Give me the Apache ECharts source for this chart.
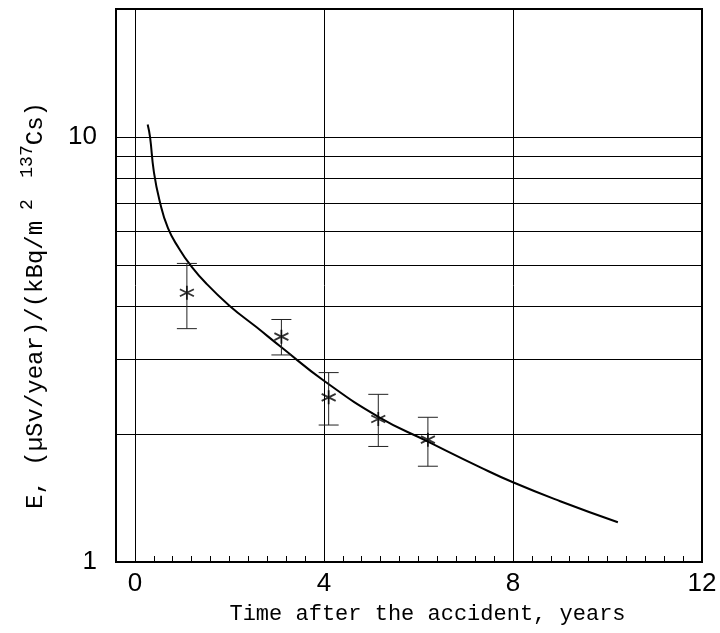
<!DOCTYPE html>
<html>
<head>
<meta charset="utf-8">
<script src="https://cdn.jsdelivr.net/npm/echarts@6/dist/echarts.min.js"></script>
<style>
  html, body { margin: 0; padding: 0; background: #fff; }
  #chart { width: 720px; height: 633px; }
</style>
</head>
<body>
<div id="chart"></div>
<script>
// Measured annual dose per unit 137Cs deposition, with error bars
const measYears = [1.1, 3.1, 4.1, 5.15, 6.2];
const measDose  = [4.3, 3.39, 2.44, 2.17, 1.94];
const measLow   = [3.54, 3.07, 2.10, 1.87, 1.68];
const measHigh  = [5.04, 3.72, 2.79, 2.48, 2.19];

// Model curve
const fitYears = [0.27, 0.32, 0.40, 0.52, 0.70, 0.94, 1.16, 1.51, 2.00, 2.57, 3.10, 4.00, 5.17, 6.18, 7.31, 8.00, 9.00, 10.22];
const fitDose  = [10.7, 10.0, 8.3, 7.1, 6.1, 5.45, 5.02, 4.52, 4.01, 3.57, 3.20, 2.67, 2.19, 1.925, 1.67, 1.54, 1.39, 1.24];

// Axis labels and grid lines
const xLabelValues = [0, 4, 8, 12];
const xGridValues = [0, 4, 8];
const yLabelValues = [1, 10];
const yGridValues = [2, 3, 4, 5, 6, 7, 8, 9, 10];

const monoFont = '"Liberation Mono", "Courier New", monospace';
const sansFont = '"Liberation Sans", Arial, sans-serif';

const chart = echarts.init(document.getElementById('chart'), null, { renderer: 'canvas' });

const gridLines = xGridValues.map(v => ({ xAxis: v }))
  .concat(yGridValues.map(v => ({ yAxis: v })));

function isNear(v, list) {
  return list.some(t => Math.abs(v - t) < 1e-6 * Math.max(1, Math.abs(t)));
}

chart.setOption({
  animation: false,
  backgroundColor: '#fff',
  grid: {
    left: 116, right: 18, top: 9, bottom: 71,
    show: true, borderColor: '#000', borderWidth: 2, backgroundColor: 'transparent'
  },
  xAxis: {
    type: 'value',
    min: -0.4, max: 12, interval: 0.4,
    axisLine: { show: true, onZero: false, lineStyle: { color: '#000', width: 2 } },
    axisTick: { show: true, inside: true, length: 6, lineStyle: { color: '#000', width: 1 } },
    splitLine: { show: false },
    axisLabel: {
      color: '#000', fontFamily: sansFont, fontSize: 26, margin: 9,
      formatter: v => isNear(v, xLabelValues) ? String(Math.round(v)) : ''
    },
    name: 'Time after the accident, years',
    nameLocation: 'middle', nameGap: 41,
    nameTextStyle: { color: '#000', fontFamily: monoFont, fontSize: 22, padding: [0, 0, 0, 37] }
  },
  yAxis: {
    type: 'log', logBase: 10, min: 1, max: 20,
    axisLine: { show: true, onZero: false, lineStyle: { color: '#000', width: 2 } },
    axisTick: { show: false },
    splitLine: { show: false },
    axisLabel: {
      color: '#000', fontFamily: sansFont, fontSize: 26, margin: 19,
      formatter: v => isNear(v, yLabelValues) ? String(Math.round(v)) : ''
    },
    name: '{m|E, (µSv/year)/(kBq/m}{s| 2  137}{m|Cs)}',
    nameLocation: 'middle', nameGap: 68, nameRotate: 90,
    nameTextStyle: {
      color: '#000', fontFamily: monoFont, fontSize: 24, padding: [0, 40, 0, 0],
      rich: {
        m: { fontFamily: monoFont, fontSize: 24, color: '#000', lineHeight: 30, verticalAlign: 'bottom' },
        s: { fontFamily: monoFont, fontSize: 18, color: '#000', lineHeight: 30, verticalAlign: 'top' }
      }
    }
  },
  series: [
    {
      type: 'line',
      data: fitYears.map((x, i) => [x, fitDose[i]]),
      showSymbol: false,
      smooth: 0.5,
      lineStyle: { color: '#000', width: 2 },
      z: 3,
      markLine: {
        silent: true,
        symbol: 'none',
        label: { show: false },
        lineStyle: { color: '#000', width: 1, type: 'solid' },
        data: gridLines,
        z: 1
      }
    },
    {
      type: 'custom',
      data: measYears.map((x, i) => [x, measLow[i], measHigh[i]]),
      renderItem: function (params, api) {
        const x = api.value(0);
        const lo = api.coord([x, api.value(1)]);
        const hi = api.coord([x, api.value(2)]);
        const cap = 10;
        const style = { stroke: '#222', lineWidth: 1 };
        return {
          type: 'group',
          children: [
            { type: 'line', shape: { x1: lo[0], y1: lo[1], x2: hi[0], y2: hi[1] }, style },
            { type: 'line', shape: { x1: lo[0] - cap, y1: lo[1], x2: lo[0] + cap, y2: lo[1] }, style },
            { type: 'line', shape: { x1: hi[0] - cap, y1: hi[1], x2: hi[0] + cap, y2: hi[1] }, style }
          ]
        };
      },
      z: 4
    },
    {
      type: 'scatter',
      data: measYears.map((x, i) => [x, measDose[i]]),
      symbol: 'path://M6,0 L6,12 M0,3 L12,9 M0,9 L12,3',
      symbolSize: 14,
      itemStyle: { color: 'rgba(0,0,0,0)', borderColor: '#000', borderWidth: 1.8 },
      z: 5
    }
  ]
});
</script>
</body>
</html>
